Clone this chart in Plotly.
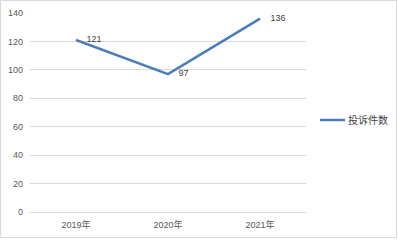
import plotly.graph_objects as go

categories = ["2019年", "2020年", "2021年"]
values = [121, 97, 136]
series_name = "投诉件数"
y_ticks = [0, 20, 40, 60, 80, 100, 120, 140]

W, H = 398, 240
L, R, T, B = 30, 92, 13, 28
pw = W - L - R
ph = H - T - B

font_family = "Liberation Sans, Noto Sans CJK SC, sans-serif"
gray = "#595959"
line_color = "#4A7EBB"

fig = go.Figure()
fig.add_trace(go.Scatter(
    x=categories, y=values, name=series_name,
    mode="lines+markers+text",
    line=dict(color=line_color, width=2.5),
    marker=dict(size=15, opacity=0),
    text=[str(v) for v in values],
    textposition="middle right",
    textfont=dict(size=9, color="#404040", family=font_family),
    cliponaxis=False,
    showlegend=False,
))

def px_x(p):
    return (p - L) / pw

def px_y(p):
    return (H - B - p) / ph

fig.update_layout(
    width=W, height=H,
    margin=dict(l=L, r=R, t=T, b=B, autoexpand=False),
    paper_bgcolor="white", plot_bgcolor="white",
    font=dict(family=font_family, size=9, color=gray),
    showlegend=False,
    xaxis=dict(range=[-0.5, 2.5], showgrid=False, showline=True, linecolor="#d9d9d9",
               linewidth=1, ticks="", tickfont=dict(size=9, color=gray), fixedrange=True,
               ticklabelstandoff=4),
    yaxis=dict(range=[0, 140], tickvals=y_ticks, showgrid=True, gridcolor="#d9d9d9",
               gridwidth=1, zeroline=False, showline=False, ticks="",
               tickfont=dict(size=9, color=gray), ticklabelstandoff=6),
    shapes=[
        dict(type="rect", xref="paper", yref="paper",
             x0=px_x(0.5), x1=px_x(396.5), y0=px_y(237.5), y1=px_y(0.5),
             line=dict(color="#d9d9d9", width=1), fillcolor="rgba(0,0,0,0)", layer="below"),
        dict(type="line", xref="paper", yref="paper",
             x0=px_x(320), x1=px_x(345), y0=px_y(120), y1=px_y(120),
             line=dict(color=line_color, width=2.5)),
    ],
    annotations=[
        dict(text=series_name, xref="paper", yref="paper", x=px_x(346), y=px_y(120),
             xanchor="left", yanchor="middle", showarrow=False,
             font=dict(size=10, color="#404040")),
    ],
)

fig.write_html("out.html")
